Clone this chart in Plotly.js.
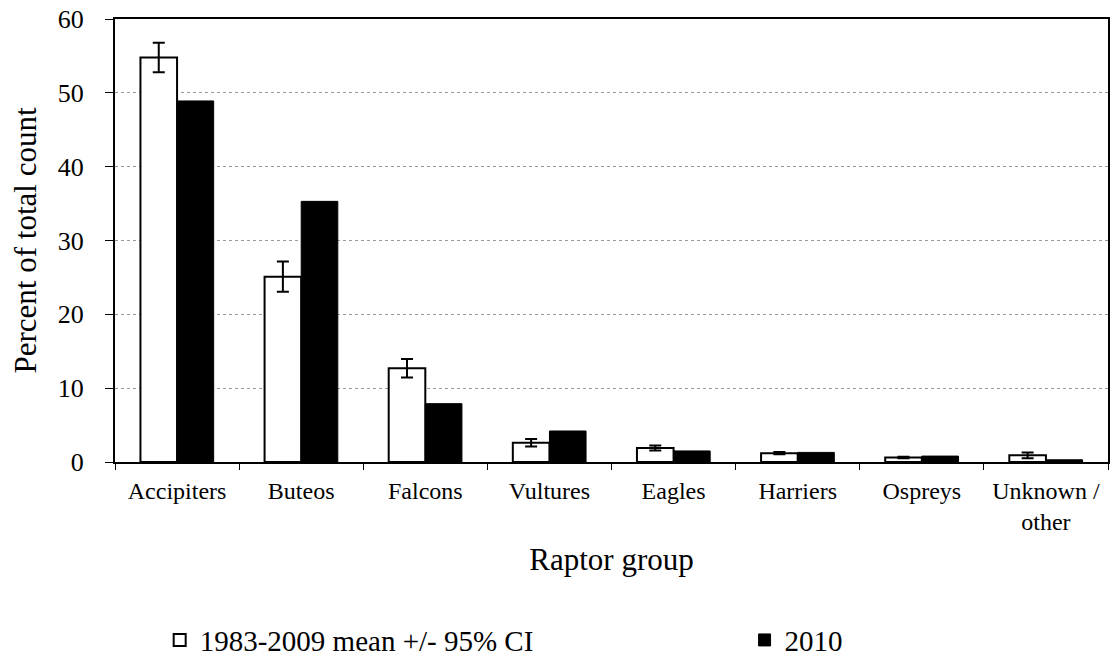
<!DOCTYPE html>
<html>
<head>
<meta charset="utf-8">
<script src="https://cdn.plot.ly/plotly-3.0.1.min.js"></script>
<style>
  html, body { margin: 0; padding: 0; background: #fff; }
  #chart { width: 1110px; height: 665px; }
</style>
</head>
<body>
<div id="chart"></div>
<script>
// Raptor groups counted at the watch site
const groups = ["Accipiters", "Buteos", "Falcons", "Vultures", "Eagles", "Harriers", "Ospreys", "Unknown /<br>other"];

// Long-term mean share (%) with 95% confidence half-widths
const meanPct = [54.8, 25.1, 12.7, 2.6, 1.9, 1.2, 0.6, 0.9];
const ci95 = [2.0, 2.05, 1.25, 0.5, 0.35, 0.15, 0.1, 0.4];

// Share (%) in the 2010 season
const pct2010 = [48.9, 35.3, 7.9, 4.2, 1.5, 1.3, 0.8, 0.3];

const seriesNames = ["1983-2009 mean +/- 95% CI", "2010"];
const yTicks = [0, 10, 20, 30, 40, 50, 60];

const serif = "Liberation Serif, Times New Roman, serif";

const traces = [
  {
    type: "bar",
    name: seriesNames[0],
    x: groups,
    y: meanPct,
    legend: "legend",
    marker: { color: "#ffffff", line: { color: "#000000", width: 2 } },
    error_y: { type: "data", array: ci95, visible: true, color: "#000000", thickness: 2, width: 6 },
    hoverinfo: "x+y"
  },
  {
    type: "bar",
    name: seriesNames[1],
    x: groups,
    y: pct2010,
    legend: "legend2",
    marker: { color: "#000000", line: { color: "#000000", width: 1 } },
    hoverinfo: "x+y"
  }
];

// Shared look for the two legend boxes under the chart
const legendBase = {
  orientation: "h",
  xanchor: "left",
  y: -0.402,
  yanchor: "middle",
  itemwidth: 30,
  font: { family: serif, size: 29, color: "#000000" },
  bgcolor: "rgba(0,0,0,0)"
};

const layout = {
  width: 1110,
  height: 665,
  margin: { l: 115, r: 2, t: 19, b: 203, autoexpand: false },
  paper_bgcolor: "#ffffff",
  plot_bgcolor: "#ffffff",
  barmode: "group",
  bargap: 0.41,
  bargroupgap: 0,
  font: { family: serif, color: "#000000" },
  xaxis: {
    type: "category",
    showline: true,
    linecolor: "#000000",
    linewidth: 2,
    mirror: true,
    ticks: "outside",
    tickson: "boundaries",
    ticklen: 6,
    tickcolor: "#000000",
    tickwidth: 1,
    ticklabelstandoff: 6,
    showgrid: false,
    tickfont: { family: serif, size: 24, color: "#000000" },
    title: { text: "Raptor group", font: { family: serif, size: 31, color: "#000000" }, standoff: 14 },
    automargin: false
  },
  yaxis: {
    range: [0, 60],
    tickvals: yTicks,
    showline: true,
    linecolor: "#000000",
    linewidth: 2,
    mirror: true,
    ticks: "outside",
    ticklen: 8,
    tickcolor: "#000000",
    tickwidth: 1,
    ticklabelstandoff: 16,
    showgrid: true,
    gridcolor: "#9a9a9a",
    griddash: "dot",
    gridwidth: 1,
    zeroline: false,
    tickfont: { family: serif, size: 26, color: "#000000" },
    title: { text: "Percent of total count", font: { family: serif, size: 31, color: "#000000" }, standoff: 12 },
    automargin: false
  },
  legend: Object.assign({}, legendBase, { x: 0.045 }),
  legend2: Object.assign({}, legendBase, { x: 0.634 }),
  showlegend: true
};

Plotly.newPlot("chart", traces, layout, { displayModeBar: false, staticPlot: true });
</script>
</body>
</html>
